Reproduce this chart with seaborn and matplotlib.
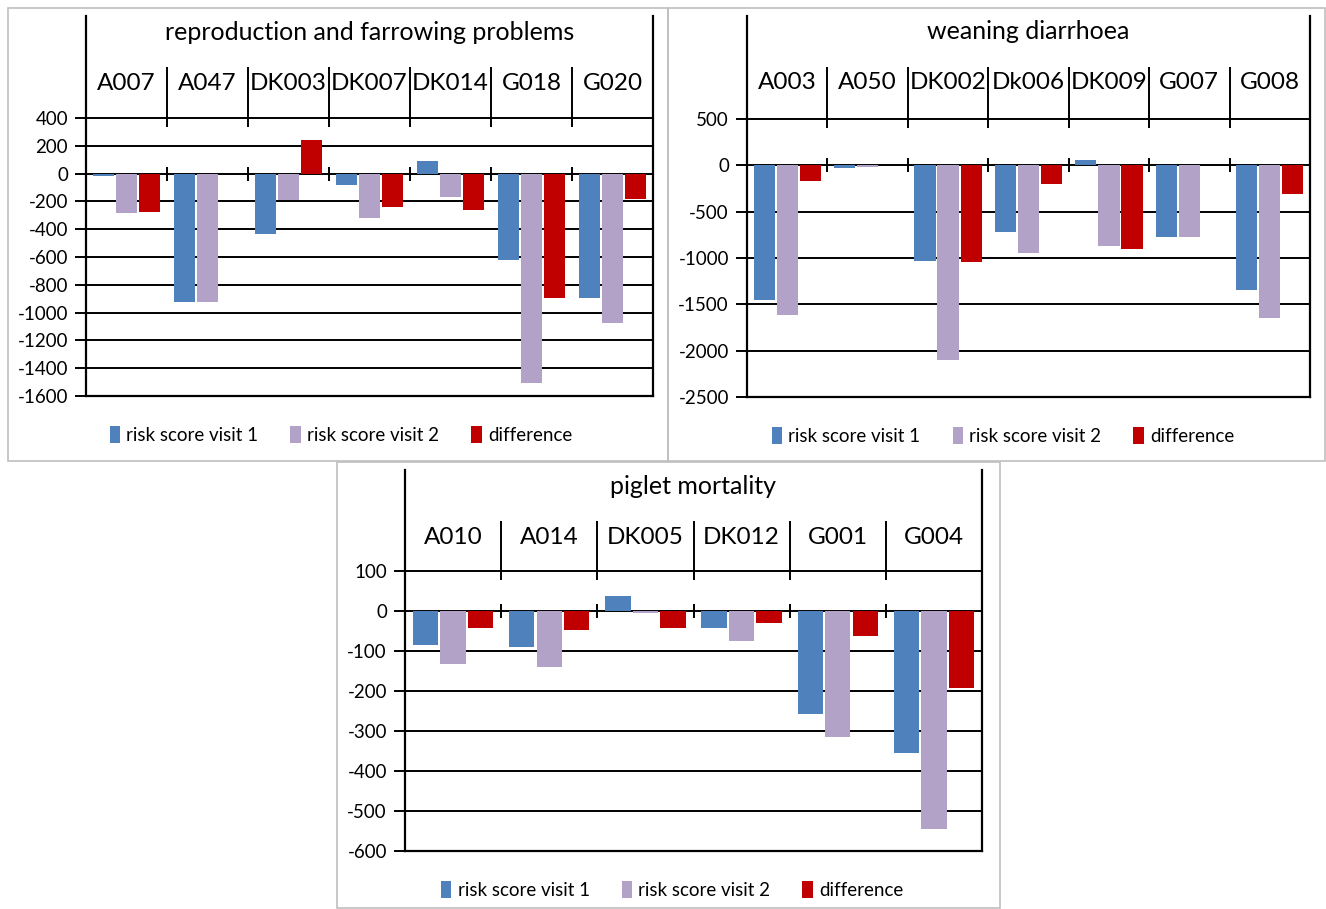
import numpy as np
import pandas as pd
import seaborn as sns
import matplotlib.pyplot as plt
from matplotlib.patches import Patch, Rectangle

# reproduction and farrowing problems
repro_farms = ["A007", "A047", "DK003", "DK007", "DK014", "G018", "G020"]
repro_visit1 = [-19, -922, -438, -79, 89, -618, -898]
repro_visit2 = [-287, -922, -192, -316, -168, -1509, -1078]
repro_diff = [-273, 0, 244, -240, -259, -893, -180]

# weaning diarrhoea
wean_farms = ["A003", "A050", "DK002", "Dk006", "DK009", "G007", "G008"]
wean_visit1 = [-1449, -25, -1030, -723, 54, -773, -1341]
wean_visit2 = [-1615, -20, -2100, -943, -867, -773, -1648]
wean_diff = [-173, 0, -1048, -202, -903, 0, -307]

# piglet mortality
piglet_farms = ["A010", "A014", "DK005", "DK012", "G001", "G004"]
piglet_visit1 = [-86, -90, 37, -42, -258, -355]
piglet_visit2 = [-132, -140, -6, -75, -315, -546]
piglet_diff = [-43, -48, -42, -29, -62, -192]

series_names = ["risk score visit 1", "risk score visit 2", "difference"]
colors = ["#4F81BD", "#B3A2C7", "#C00000"]

W, H = 1326, 909

sns.set_style("white")
plt.rcParams['font.family'] = ['Lato', 'DejaVu Sans']
plt.rcParams['text.color'] = 'black'
plt.rcParams['ytick.color'] = 'black'
plt.rcParams['ytick.labelcolor'] = 'black'


def long_df(farms, v1, v2, diff):
    rows = []
    for name, vals in zip(series_names, [v1, v2, diff]):
        for f, v in zip(farms, vals):
            rows.append({"farm": f, "series": name, "value": v})
    return pd.DataFrame(rows)


def panel(fig, title, farms, v1, v2, diff, box, left, right, ftop, gtop, bottom,
          yticks, legend_x, legend_y):
    # grey frame around each chart snapshot
    bx0, by0, bx1, by1 = box
    fig.patches.append(Rectangle((bx0 / W, 1 - by1 / H), (bx1 - bx0) / W, (by1 - by0) / H,
                                 transform=fig.transFigure, fill=False,
                                 edgecolor="#BFBFBF", lw=1.2))

    ax = fig.add_axes([left / W, 1 - bottom / H, (right - left) / W, (bottom - ftop) / H])
    df = long_df(farms, v1, v2, diff)
    sns.barplot(data=df, x="farm", y="value", hue="series", palette=colors,
                saturation=1, width=0.86, gap=0.08, linewidth=0, ax=ax, legend=False)

    ymin, ymax = yticks[0], yticks[-1]
    upp = (ymax - ymin) / (bottom - gtop)  # data units per pixel
    ytop = ymax + (gtop - ftop) * upp
    ax.set_ylim(ymin, ytop)
    ax.set_xlim(-0.5, len(farms) - 0.5)
    ax.set_yticks(yticks)
    ax.set_yticklabels([str(t) for t in yticks], fontsize=13.5)
    ax.tick_params(axis="y", length=8, width=1.4, color="black", pad=5, left=True)
    ax.set_xticks([])
    ax.set_xlabel("")
    ax.set_ylabel("")
    for t in yticks:
        ax.axhline(t, color="black", lw=1.4, zorder=0.5)

    ax.spines["top"].set_visible(False)
    for s in ["left", "right", "bottom"]:
        ax.spines[s].set_color("black")
        ax.spines[s].set_linewidth(1.6)

    # category separators in the header band and tick marks on the zero line
    seps = np.arange(len(farms) - 1) + 0.5
    sep_top = ytop - 51 * upp
    ax.vlines(seps, ymax - 9 * upp, sep_top, color="black", lw=1.4)
    ax.vlines(seps, -7 * upp, 7 * upp, color="black", lw=1.4)

    lab_frac = (bottom - (ftop + 67)) / (bottom - ftop)
    for i, f in enumerate(farms):
        ax.text(i, lab_frac, f, transform=ax.get_xaxis_transform(),
                ha="center", va="center", fontsize=17.5)
    title_frac = (bottom - (ftop + 16)) / (bottom - ftop)
    ax.text(0.5, title_frac, title, transform=ax.transAxes, ha="center",
            va="center", fontsize=18)

    handles = [Patch(facecolor=c, edgecolor="none") for c in colors]
    ax.legend(handles, series_names, loc="center",
              bbox_to_anchor=(legend_x / W, 1 - legend_y / H),
              bbox_transform=fig.transFigure, ncol=3, frameon=False,
              fontsize=13.5, handlelength=0.55, handleheight=1.0,
              handletextpad=0.35, columnspacing=1.7)
    return ax


fig = plt.figure(figsize=(W / 100, H / 100), dpi=100)

panel(fig, "reproduction and farrowing problems", repro_farms,
      repro_visit1, repro_visit2, repro_diff,
      box=(8, 8, 668, 461), left=86, right=653, ftop=16, gtop=118, bottom=396,
      yticks=list(range(-1600, 401, 200)), legend_x=341, legend_y=435)

panel(fig, "weaning diarrhoea", wean_farms,
      wean_visit1, wean_visit2, wean_diff,
      box=(668, 8, 1325, 461), left=747, right=1310, ftop=16, gtop=119, bottom=397,
      yticks=list(range(-2500, 501, 500)), legend_x=1003, legend_y=436)

panel(fig, "piglet mortality", piglet_farms,
      piglet_visit1, piglet_visit2, piglet_diff,
      box=(337, 462, 1000, 908), left=405, right=982, ftop=470, gtop=571, bottom=851,
      yticks=list(range(-600, 101, 100)), legend_x=672, legend_y=890)

fig.savefig("out.png", dpi=100)
